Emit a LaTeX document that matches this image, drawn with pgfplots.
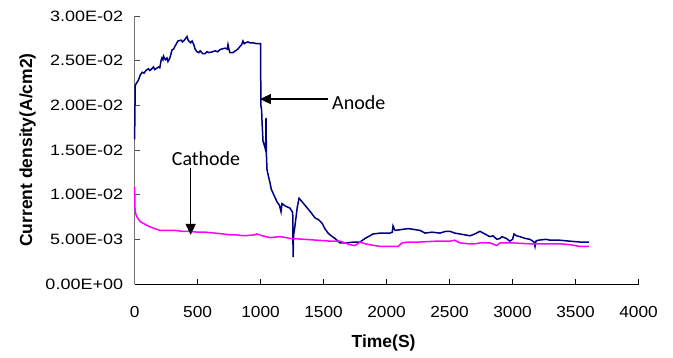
\documentclass[border=0pt]{standalone}
\usepackage{fontspec}
\setmainfont{Liberation Sans}
\newfontfamily\yticksfont[FakeStretch=1.2]{Liberation Sans}
\newfontfamily\xticksfont[FakeStretch=1.08]{Liberation Sans}
\newfontfamily\calibri{Carlito}
\usepackage{pgfplots}
\pgfplotsset{compat=1.18}
\usetikzlibrary{arrows.meta}
\definecolor{anodeblue}{RGB}{0,0,128}
\definecolor{cathodepink}{RGB}{255,0,255}
\begin{document}
\begin{tikzpicture}
\begin{axis}[
  scale only axis, width=504pt, height=268pt,
  xmin=0, xmax=4000, ymin=0, ymax=0.03,
  axis lines*=left,
  tick align=inside, major tick length=5pt,
  xtick={0,500,1000,1500,2000,2500,3000,3500,4000},
  xticklabels={0,500,1000,1500,2000,2500,3000,3500,4000},
  ytick={0,0.005,0.01,0.015,0.02,0.025,0.03},
  yticklabels={0.00E+00,5.00E-03,1.00E-02,1.50E-02,2.00E-02,2.50E-02,3.00E-02},
  scaled y ticks=false,
  xticklabel style={font=\xticksfont\fontsize{16}{18}\selectfont, yshift=-19pt},
  yticklabel style={font=\yticksfont\fontsize{15}{18}\selectfont, xshift=-8pt},
  x axis line style={black, line width=0.8pt},
  y axis line style={black!55, line width=0.8pt},
  xtick style={black, line width=0.8pt},
  ytick style={black!70, line width=0.8pt},
  xlabel={\bfseries Time(S)},
  ylabel={\bfseries Current density(A/cm2)},
  label style={font=\fontsize{17.5}{20}\selectfont},
  xlabel style={at={(axis description cs:0.5,0)}, anchor=center, yshift=-59pt, xshift=-3pt},
  ylabel style={at={(axis description cs:0,0.5)}, anchor=center, yshift=107pt},
  clip=false,
]
% anode current density
\addplot[anodeblue, line width=1.5pt] table {
0 0.0162
5 0.0222
15 0.0225
30 0.0228
45 0.0234
60 0.0237
75 0.0236
90 0.0239
110 0.0241
120 0.0239
130 0.0240
150 0.0243
160 0.0240
170 0.0241
190 0.0243
200 0.0242
210 0.0250
217 0.0253
225 0.0251
230 0.0255
245 0.0251
257 0.0253
265 0.0249
280 0.0253
297 0.0262
310 0.0263
320 0.0266
344 0.0272
370 0.0273
380 0.0271
395 0.0273
416 0.0277
425 0.0273
430 0.0272
445 0.0270
456 0.0272
470 0.0268
480 0.0263
495 0.0260
510 0.0259
520 0.0261
540 0.0258
559 0.0258
575 0.0260
590 0.0259
620 0.0260
638 0.0261
660 0.0260
675 0.0262
690 0.0263
717 0.0264
735 0.0263
741 0.0268
750 0.0262
757 0.0259
780 0.0259
800 0.0261
820 0.0263
837 0.0266
850 0.0268
860 0.0272
870 0.0269
880 0.0270
900 0.0271
916 0.0270
940 0.0270
970 0.0269
1000 0.0269
1002 0.0200
1008 0.0195
1012 0.0180
1019 0.0160
1030 0.0155
1040 0.0150
1043 0.0186
1046 0.0145
1051 0.0128
1060 0.0122
1075 0.0113
1085 0.0106
1098 0.0102
1130 0.0092
1150 0.0088
1162 0.0081
1170 0.0090
1200 0.0087
1233 0.0085
1255 0.0080
1258 0.0030
1262 0.0055
1270 0.0062
1290 0.0085
1305 0.0096
1330 0.0092
1353 0.0088
1400 0.0080
1432 0.0074
1460 0.0072
1488 0.0068
1510 0.0062
1535 0.0057
1560 0.0054
1590 0.0051
1630 0.0046
1670 0.0046
1750 0.0047
1789 0.0047
1829 0.0051
1868 0.0054
1892 0.0056
1950 0.0057
2027 0.0057
2045 0.0058
2051 0.0065
2060 0.0062
2067 0.0060
2120 0.0061
2170 0.0062
2220 0.0061
2265 0.0060
2305 0.0057
2360 0.0058
2424 0.0057
2470 0.0059
2503 0.0059
2540 0.0057
2582 0.0056
2620 0.0055
2662 0.0054
2700 0.0056
2741 0.0059
2780 0.0056
2820 0.0053
2844 0.0054
2876 0.0050
2900 0.0051
2916 0.0053
2950 0.0051
2979 0.0048
3000 0.0050
3011 0.0056
3030 0.0054
3059 0.0053
3100 0.0051
3138 0.0050
3170 0.0047
3178 0.0042
3185 0.0048
3202 0.0049
3265 0.0050
3300 0.0049
3376 0.0049
3450 0.0048
3535 0.0047
3606 0.0047
};
% cathode current density
\addplot[cathodepink, line width=1.5pt] table {
0 0.0109
3 0.0085
8 0.0079
19 0.0075
43 0.0070
80 0.0067
122 0.0064
160 0.0062
201 0.0060
250 0.0060
321 0.0060
380 0.0059
440 0.0059
500 0.0058
560 0.0058
638 0.0057
700 0.0056
757 0.0055
800 0.0055
876 0.0054
950 0.0055
970 0.0056
995 0.0055
1011 0.0054
1075 0.0052
1154 0.0053
1200 0.0052
1233 0.0051
1350 0.0050
1450 0.0049
1551 0.0048
1630 0.0048
1670 0.0046
1710 0.0044
1749 0.0043
1789 0.0047
1829 0.0045
1868 0.0044
1950 0.0042
1988 0.0042
2091 0.0042
2122 0.0046
2170 0.0047
2265 0.0047
2400 0.0048
2503 0.0048
2540 0.0049
2582 0.0046
2650 0.0045
2702 0.0045
2741 0.0046
2820 0.0046
2876 0.0043
2900 0.0046
3000 0.0046
3138 0.0045
3265 0.0045
3376 0.0045
3456 0.0044
3535 0.0042
3606 0.0042
};
% annotations
\draw[-{Triangle[length=11pt,width=10pt]}, line width=1.5pt, black]
  (axis cs:1535,0.0207) -- (axis cs:995,0.0207);
\node[anchor=west, inner sep=0pt, font=\calibri\fontsize{20}{22}\selectfont]
  at (axis cs:1567,0.0203) {Anode};
\draw[-{Triangle[length=11pt,width=10pt]}, line width=1.5pt, black]
  (axis cs:445,0.0130) -- (axis cs:445,0.0055);
\node[anchor=center, inner sep=0pt, font=\calibri\fontsize{20}{22}\selectfont]
  at (axis cs:567,0.0140) {Cathode};
\coordinate (bl) at (rel axis cs:0,0);
\end{axis}
\path (bl) ++(-134.6pt,-73pt) rectangle ++(673pt,357pt);
\end{tikzpicture}
\end{document}
